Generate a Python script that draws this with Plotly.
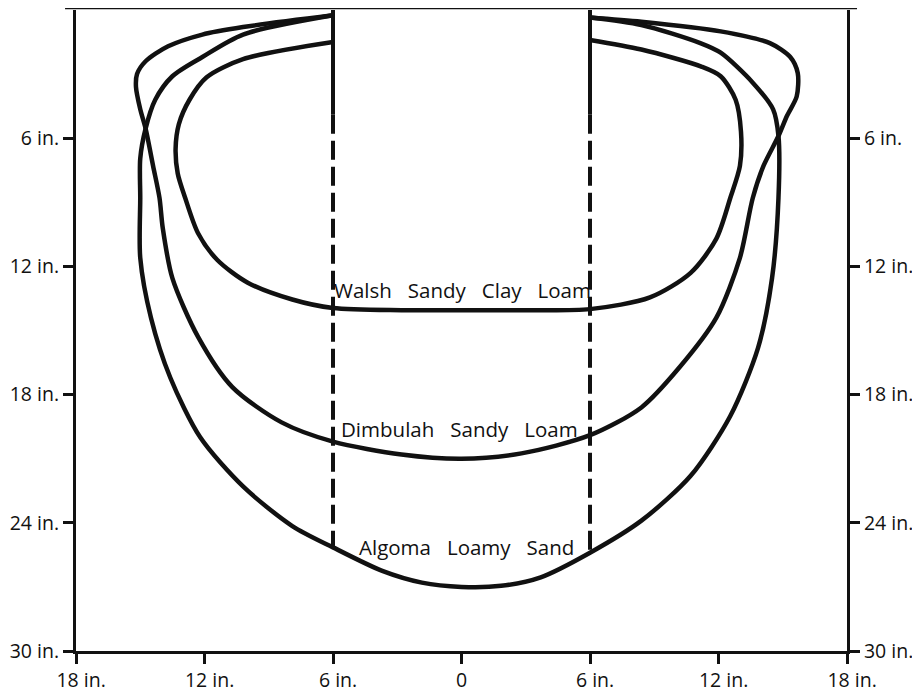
import plotly.graph_objects as go

# ---- data (inches; x = lateral distance from emitter line centre, y = depth) ----
walsh_x = [-6, -10.2, -11.9, -12.7, -13.2, -13.35, -13.25, -12.9, -12.3, -11.4, -10.0, -7.9,
           -6, -2.8, 0, 2.8, 6, 8.8, 10.7, 11.9, 12.55, 13.0, 13.05, 12.8, 12.1, 11.2, 8.4, 6]
walsh_y = [1.5, 2.3, 3.15, 4.2, 5.35, 6.5, 7.65, 8.8, 10.45, 11.7, 12.75, 13.55,
           13.95, 14.05, 14.05, 14.05, 14.0, 13.45, 12.3, 10.7, 8.8, 7.3, 5.7, 4.2, 3.1, 2.65, 1.85, 1.4]

dimbulah_x = [-6, -10.2, -12.1, -13.7, -14.75, -15.15, -15.2, -15.0, -14.75, -14.4, -14.1, -13.95,
              -13.5, -12.3, -10.7, -8.4, -6, -2.8, 0, 2.8, 6, 8.4, 10.2, 11.9, 13.0, 13.6, 14.1,
              14.8, 15.2, 15.65, 15.7, 15.35, 14.4, 12.1, 8.4, 6]
dimbulah_y = [0.25, 0.8, 1.15, 1.7, 2.4, 3.0, 3.6, 4.65, 5.55, 7.3, 8.8, 10.2,
              12.55, 15.3, 17.65, 19.3, 20.2, 20.8, 21.0, 20.75, 19.9, 18.6, 16.7, 14.4, 11.6, 8.8, 7.3,
              5.9, 4.95, 4.05, 2.95, 2.2, 1.55, 1.0, 0.55, 0.35]

algoma_x = [-6, -10.2, -12.1, -13.5, -14.3, -14.75, -15.0, -15.0, -15.0, -14.5, -13.6, -12.2,
            -10.2, -7.9, -6, -3.7, -1.85, 0, 1.85, 3.7, 6, 8.4, 10.7, 12.55, 13.85, 14.5, 14.8,
            14.8, 14.55, 13.6, 12.1, 11.15, 8.4, 6]
algoma_y = [0.25, 1.15, 2.2, 3.1, 4.2, 5.55, 6.95, 8.8, 11.6, 14.4, 17.2, 20.0,
            22.3, 24.15, 25.15, 26.25, 26.8, 27.0, 26.95, 26.55, 25.4, 23.9, 21.8, 19.0, 15.8, 12.55, 8.8,
            5.9, 4.65, 3.4, 2.0, 1.55, 0.7, 0.35]

emitter_x = [-6, 6]             # edges of the emitter strip
emitter_solid_to = 4.9          # depth where the solid part ends
emitter_dash_to = [25.2, 25.4]  # depth where the dashed part ends

soil_names = ["Walsh\u00a0\u00a0\u00a0Sandy\u00a0\u00a0\u00a0Clay\u00a0\u00a0\u00a0Loam",
              "Dimbulah\u00a0\u00a0\u00a0Sandy\u00a0\u00a0\u00a0Loam",
              "Algoma\u00a0\u00a0\u00a0Loamy\u00a0\u00a0\u00a0Sand"]
label_x = [0.05, -0.1, 0.25]
label_y = [13.1, 19.6, 25.15]

x_tickvals = [-18, -12, -6, 0, 6, 12, 18]
x_ticktext = ["\u00a0\u00a018 in.", "\u00a0\u00a012 in.", "\u00a0\u00a06 in.", "0",
              "\u00a0\u00a06 in.", "\u00a0\u00a012 in.", "\u00a0\u00a018 in."]
y_tickvals = [6, 12, 18, 24, 30]
y_ticktext = ["6 in.", "12 in.", "18 in.", "24 in.", "30 in."]

INK = "#111111"
FONT = "Open Sans"

fig = go.Figure()

for xs, ys in [(walsh_x, walsh_y), (dimbulah_x, dimbulah_y), (algoma_x, algoma_y)]:
    fig.add_trace(go.Scatter(x=xs, y=ys, mode="lines",
                             line=dict(color=INK, width=4.5, shape="spline", smoothing=0.8),
                             hoverinfo="skip", showlegend=False))

for i, ex in enumerate(emitter_x):
    ax = "y" if i == 0 else "y2"
    fig.add_trace(go.Scatter(x=[ex, ex], y=[0, emitter_solid_to], mode="lines", yaxis=ax,
                             line=dict(color=INK, width=4),
                             hoverinfo="skip", showlegend=False))
    fig.add_trace(go.Scatter(x=[ex, ex], y=[emitter_solid_to, emitter_dash_to[i]], mode="lines",
                             yaxis=ax, line=dict(color=INK, width=4, dash="19px,7px"),
                             hoverinfo="skip", showlegend=False))

for name, lx, ly in zip(soil_names, label_x, label_y):
    fig.add_annotation(x=lx, y=ly, text=name, showarrow=False,
                       font=dict(family=FONT, size=20.5, color=INK))

# top border line that overhangs both axes
fig.add_shape(type="line", xref="paper", yref="paper", x0=-0.0142, x1=1.013, y0=1.003, y1=1.003,
              line=dict(color=INK, width=2.5))

axis_common = dict(showgrid=False, zeroline=False, showline=True, linecolor=INK, linewidth=3,
                   ticks="outside", ticklen=10, tickwidth=2.5, tickcolor=INK,
                   tickfont=dict(family=FONT, size=19.5, color=INK))

# page body has an 8px margin, so offsets are compensated here
fig.update_layout(
    width=912, height=687,
    margin=dict(l=65, r=73, t=2, b=39),
    paper_bgcolor="white", plot_bgcolor="white",
    xaxis=dict(range=[-18, 18], tickvals=x_tickvals, ticktext=x_ticktext, **axis_common),
    yaxis=dict(range=[30, 0], tickvals=y_tickvals, ticktext=y_ticktext, **axis_common),
    yaxis2=dict(range=[30, 0], tickvals=y_tickvals, ticktext=y_ticktext, overlaying="y",
                side="right", **axis_common),
)

fig.write_html("out.html")
